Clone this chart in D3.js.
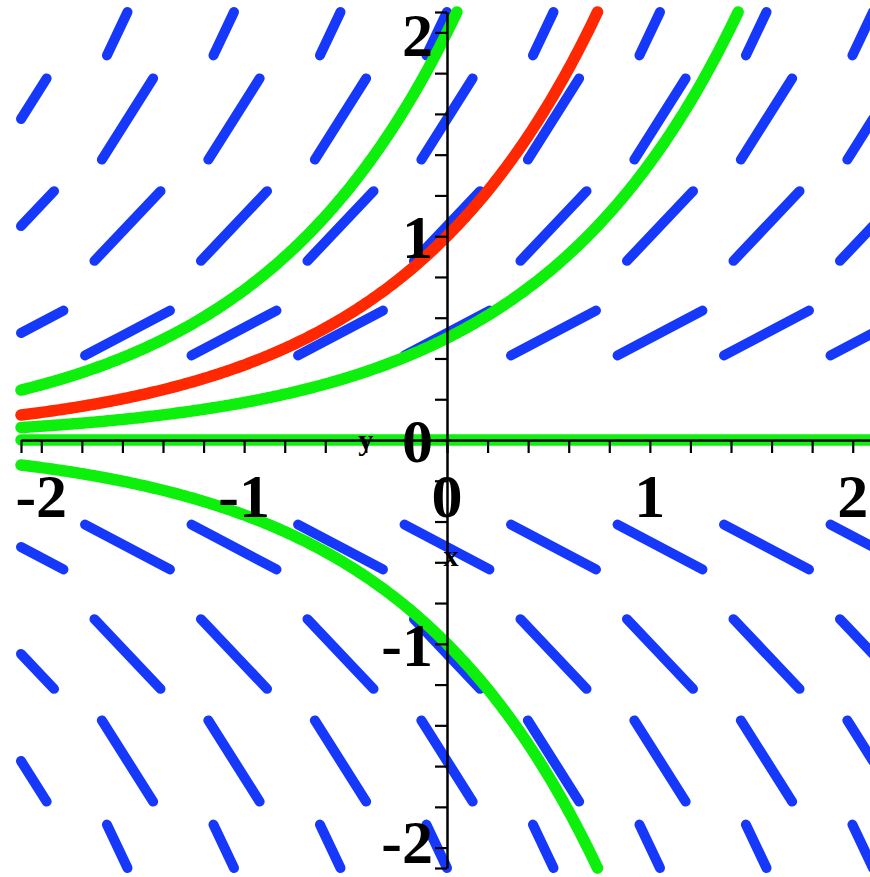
<!DOCTYPE html>
<html>
<head>
<meta charset="utf-8">
<script src="https://cdn.jsdelivr.net/npm/d3@7"></script>
<style>
  html, body { margin: 0; padding: 0; background: #fff; }
  svg { display: block; }
</style>
</head>
<body>
<svg id="chart" width="870" height="877"></svg>
<script>
// Direction field of dy/dx = y with a few solution curves.
const xGrid = [-2.1, -1.575, -1.05, -0.525, 0, 0.525, 1.05, 1.575, 2.1];
const yGrid = [-2.1, -1.575, -1.05, -0.525, 0, 0.525, 1.05, 1.575, 2.1];
const greenStarts = [2, 0.5, 0, -1];   // y(0) for the green solutions
const redStarts = [1];                 // y(0) for the red solution
const tickLabels = [-2, -1, 0, 1, 2];
const viewRange = [-2.1, 2.1];

const slope = (x, y) => y;

const svg = d3.select("#chart");
const W = 870, H = 877;
svg.append("rect").attr("width", W).attr("height", H).attr("fill", "#fff");

const x = d3.scaleLinear().domain(viewRange).range([21, 873]);
const y = d3.scaleLinear().domain(viewRange).range([868, 12]);

const box = {
  x0: x(viewRange[0]), x1: x(viewRange[1]),
  y0: y(viewRange[1]), y1: y(viewRange[0])
};

// Liang–Barsky clip of a screen segment to the plotting box
function clipSegment(ax, ay, bx, by) {
  let t0 = 0, t1 = 1;
  const dx = bx - ax, dy = by - ay;
  const p = [-dx, dx, -dy, dy];
  const q = [ax - box.x0, box.x1 - ax, ay - box.y0, box.y1 - ay];
  for (let i = 0; i < 4; i++) {
    if (p[i] === 0) { if (q[i] < 0) return null; continue; }
    const r = q[i] / p[i];
    if (p[i] < 0) { if (r > t1) return null; if (r > t0) t0 = r; }
    else { if (r < t0) return null; if (r < t1) t1 = r; }
  }
  if (t1 - t0 < 1e-6) return null;
  return [ax + t0 * dx, ay + t0 * dy, ax + t1 * dx, ay + t1 * dy];
}

// Field segments, centred on grid points, equal screen length
const halfLen = 48;
const field = [];
xGrid.forEach(gx => yGrid.forEach(gy => {
  const m = slope(gx, gy);
  const cx = x(gx), cy = y(gy);
  const dx = x(gx + 1) - x(gx);
  const dy = y(gy + m) - y(gy);
  const n = Math.hypot(dx, dy);
  const ux = dx / n * halfLen, uy = dy / n * halfLen;
  const seg = clipSegment(cx - ux, cy - uy, cx + ux, cy + uy);
  if (seg) field.push(seg);
}));

svg.append("g").selectAll("line").data(field).join("line")
  .attr("x1", d => d[0]).attr("y1", d => d[1])
  .attr("x2", d => d[2]).attr("y2", d => d[3])
  .attr("stroke", "#1638fa")
  .attr("stroke-width", 10)
  .attr("stroke-linecap", "round");

// Solution curves: RK4 from x = 0 in both directions, stopped at the box
function solve(y0) {
  const h = 0.01, nSteps = Math.round(viewRange[1] / h);
  const lim = viewRange[1];
  const step = (xv, yv, s) => {
    const k1 = slope(xv, yv);
    const k2 = slope(xv + s / 2, yv + s / 2 * k1);
    const k3 = slope(xv + s / 2, yv + s / 2 * k2);
    const k4 = slope(xv + s, yv + s * k3);
    return yv + s / 6 * (k1 + 2 * k2 + 2 * k3 + k4);
  };
  const run = dir => {
    const pts = [[0, y0]];
    let yv = y0;
    for (let i = 1; i <= nSteps; i++) {
      const xPrev = (i - 1) * h * dir, yPrev = yv;
      yv = step(xPrev, yv, h * dir);
      const xv = i * h * dir;
      if (Math.abs(yv) > lim) {
        const edge = Math.sign(yv) * lim;
        const t = (edge - yPrev) / (yv - yPrev);
        pts.push([xPrev + t * (xv - xPrev), edge]);
        break;
      }
      pts.push([xv, yv]);
    }
    return pts;
  };
  return run(-1).reverse().concat(run(1).slice(1));
}

const line = d3.line().x(d => x(d[0])).y(d => y(d[1]));

const curveStyle = sel => sel
  .attr("d", line)
  .attr("fill", "none")
  .attr("stroke-width", 11.5)
  .attr("stroke-linecap", "round")
  .attr("stroke-linejoin", "round");

svg.append("g").selectAll("path").data(greenStarts.map(solve)).join("path")
  .call(curveStyle)
  .attr("stroke", "#0cf00c");

svg.append("g").selectAll("path").data(redStarts.map(solve)).join("path")
  .call(curveStyle)
  .attr("stroke", "#ff2800");

// Axes through the origin, minor ticks every 0.2 plus the ends
const minor = d3.range(-10, 11).map(i => i / 5).concat(viewRange);

const xAxis = svg.append("g")
  .attr("transform", `translate(0,${y(0)})`)
  .call(d3.axisBottom(x).tickValues(minor).tickSize(13).tickSizeOuter(0).tickFormat(""));
const yAxis = svg.append("g")
  .attr("transform", `translate(${x(0)},0)`)
  .call(d3.axisLeft(y).tickValues(minor).tickSize(12).tickSizeOuter(0).tickFormat(""));
[xAxis, yAxis].forEach(g => {
  g.selectAll("path.domain").attr("stroke", "#000").attr("stroke-width", 2.5);
  g.selectAll(".tick line").attr("stroke", "#000").attr("stroke-width", 2.2);
});

const labelFont = "'Liberation Serif', 'Times New Roman', serif";
const fs = 62;

svg.append("g").selectAll("text").data(tickLabels).join("text")
  .attr("x", d => x(d))
  .attr("y", y(0) + 77)
  .attr("text-anchor", "middle")
  .attr("font-family", labelFont)
  .attr("font-weight", "bold")
  .attr("font-size", fs)
  .attr("fill", "#000")
  .text(d => d);

// keep the outermost labels' text boxes inside the page
svg.append("g").selectAll("text").data(tickLabels).join("text")
  .attr("x", x(0) - 14)
  .attr("y", d => Math.max(56, Math.min(H - 14, y(d) + 22)))
  .attr("text-anchor", "end")
  .attr("font-family", labelFont)
  .attr("font-weight", "bold")
  .attr("font-size", fs)
  .attr("fill", "#000")
  .text(d => d);

// Axis names
svg.append("text")
  .attr("x", x(-0.4)).attr("y", y(0) + 10)
  .attr("text-anchor", "middle")
  .attr("font-family", labelFont).attr("font-weight", "bold")
  .attr("font-size", 30).attr("fill", "#000")
  .text("y");
svg.append("text")
  .attr("x", x(0.02)).attr("y", y(-0.62))
  .attr("text-anchor", "middle")
  .attr("font-family", labelFont).attr("font-weight", "bold")
  .attr("font-size", 30).attr("fill", "#000")
  .text("x");
</script>
</body>
</html>
